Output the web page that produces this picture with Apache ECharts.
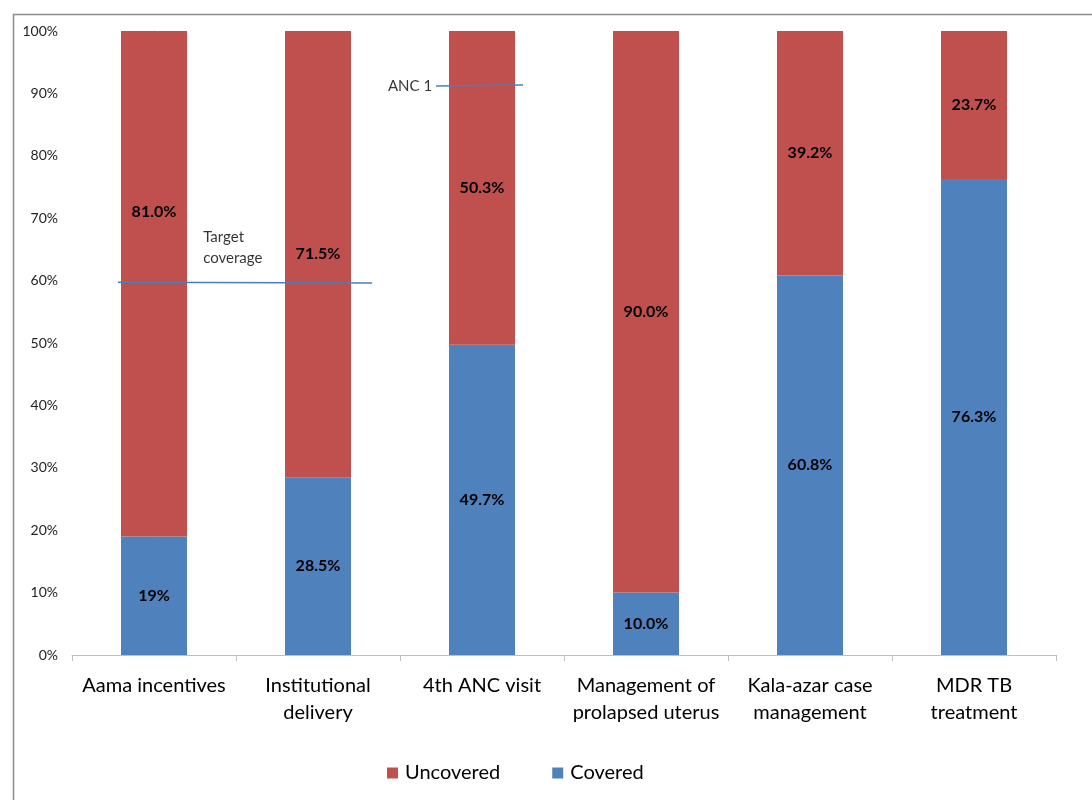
<!DOCTYPE html>
<html>
<head>
<meta charset="utf-8">
<script src="https://cdn.jsdelivr.net/npm/echarts@6/dist/echarts.min.js"></script>
<style>
  html, body { margin: 0; padding: 0; background: #fff; }
  #chart { width: 1092px; height: 800px; }
</style>
</head>
<body>
<div id="chart"></div>
<script>
// Service coverage by programme (percent of need)
const categories = ['Aama incentives', 'Institutional\ndelivery', '4th ANC visit',
  'Management of\nprolapsed uterus', 'Kala-azar case\nmanagement', 'MDR TB\ntreatment'];
const covered   = [19, 28.5, 49.7, 10.0, 60.8, 76.3];
const uncovered = [81.0, 71.5, 50.3, 90.0, 39.2, 23.7];
// decimals shown in each covered label
const coveredDecimals = [0, 1, 1, 1, 1, 1];
const yTicks = [0, 10, 20, 30, 40, 50, 60, 70, 80, 90, 100];

// Reference lines, in [category position, percent]
const targetLine = [[-0.22, 59.75], [1.33, 59.6]];
const anc1Line = [[1.72, 91.2], [2.25, 91.35]];
const targetLabelAt = [0.3, 65.2];

const RED = '#C0504D', BLUE = '#4F81BD', LINE = '#4A7EBB';
const FONT = 'Lato, "Open Sans", sans-serif';

const chart = echarts.init(document.getElementById('chart'));

const baseLabel = {
  show: true, position: 'inside', color: '#000', fontWeight: 'bold',
  fontSize: 16, fontFamily: FONT
};
const noteText = { color: '#000', fontSize: 15, fontFamily: FONT };

chart.setOption({
  animation: false,
  textStyle: { fontFamily: FONT },
  graphic: [{
    type: 'rect', left: 11, top: 12, silent: true,
    shape: { width: 1200, height: 900 },
    style: { fill: 'none', stroke: '#8c8c8c', lineWidth: 1.5 }
  }],
  grid: { left: 72, right: 36, top: 31, bottom: 145 },
  legend: {
    bottom: 12, left: 382, itemWidth: 11, itemHeight: 11, itemGap: 52,
    icon: 'rect',
    data: ['Uncovered', 'Covered'],
    textStyle: { fontSize: 20, color: '#000', fontFamily: FONT, padding: [0, 0, 0, 2] }
  },
  xAxis: [{
    type: 'category', data: categories,
    axisLine: { lineStyle: { color: '#bfbfbf' } },
    axisTick: { show: true, length: 6, lineStyle: { color: '#bfbfbf' } },
    axisLabel: { fontSize: 20, color: '#000', lineHeight: 27, margin: 17, interval: 0, fontFamily: FONT }
  }, {
    type: 'value', min: -0.5, max: 5.5, show: false
  }],
  yAxis: {
    type: 'value', min: 0, max: 100, interval: 10,
    splitLine: { show: false },
    axisLine: { show: true, lineStyle: { color: '#bfbfbf' } },
    axisTick: { show: true, length: 6, lineStyle: { color: '#bfbfbf' } },
    axisLabel: {
      fontSize: 14, color: '#222', margin: 14, fontFamily: FONT,
      customValues: yTicks,
      formatter: v => v + '%'
    }
  },
  series: [{
    name: 'Covered', type: 'bar', stack: 'total', barWidth: 66,
    itemStyle: { color: BLUE },
    label: { ...baseLabel, formatter: p => p.value.toFixed(coveredDecimals[p.dataIndex]) + '%' },
    data: covered
  }, {
    name: 'Uncovered', type: 'bar', stack: 'total', barWidth: 66,
    itemStyle: { color: RED },
    label: { ...baseLabel, formatter: p => p.value.toFixed(1) + '%' },
    // the first label is lifted clear of the target line
    data: uncovered.map((v, i) => i === 0 ? { value: v, label: { offset: [0, -72] } } : v)
  }, {
    name: 'Target', type: 'line', xAxisIndex: 1, data: targetLine,
    symbol: 'none', lineStyle: { color: LINE, width: 1.5 }, z: 5, silent: true
  }, {
    name: 'ANC 1', type: 'line', xAxisIndex: 1, data: anc1Line,
    symbol: 'none', lineStyle: { color: LINE, width: 1.5 }, z: 5, silent: true
  }, {
    name: 'Notes', type: 'scatter', xAxisIndex: 1, symbolSize: 0, silent: true,
    data: [{
      value: targetLabelAt,
      label: { show: true, position: 'right', distance: 0, formatter: 'Target\ncoverage', lineHeight: 21, ...noteText }
    }, {
      value: anc1Line[0],
      label: { show: true, position: 'left', distance: 4, formatter: 'ANC 1', ...noteText }
    }]
  }]
});
</script>
</body>
</html>
